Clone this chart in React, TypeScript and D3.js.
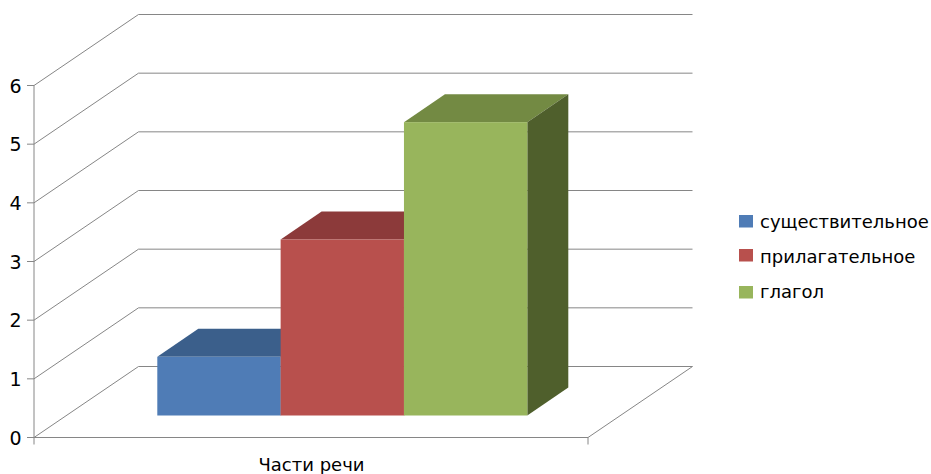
import React from "react";
import * as d3 from "d3";

const categories = ["Части речи"];
const seriesNames = ["существительное", "прилагательное", "глагол"];
const seriesValues = [1, 3, 5];
const frontColors = ["#4f7cb6", "#b8504d", "#98b55c"];
const topColors = ["#3b5f8b", "#8c3a3a", "#738a43"];
const sideColors = ["#2f4b6e", "#6f2e2d", "#4f5f2c"];
const yTicks = [0, 1, 2, 3, 4, 5, 6];
const legendSwatchY = [215, 249, 286];
const legendTextY = [228, 263, 298];

const W = 931, H = 474;
const axisColor = "#868686";
const font = "'DejaVu Sans', sans-serif";

const y = d3.scaleLinear().domain([0, 6]).range([437.5, 85.5]);
const x = d3.scaleBand<string>().domain(seriesNames).range([157.3, 527.3]).padding(0);
const left = 34, right = 588;
const wallDx = 104.5, wallDy = -71;
const barLift = 22, barDx = 41, barDy = -28;

const poly = (pts: [number, number][]) => pts.map(p => p.join(",")).join(" ");

export default function App() {
  const line = d3.line();
  return (
    <svg width={W} height={H} viewBox={`0 0 ${W} ${H}`} style={{ position: "absolute", left: 0, top: 0, background: "#fff" }}>
      {yTicks.map(t => (
        <g key={t}>
          <path
            d={line([[left, y(t)], [left + wallDx, y(t) + wallDy], [right + wallDx, y(t) + wallDy]]) as string}
            fill="none" stroke={axisColor} strokeWidth={1}
          />
          <line x1={left - 7} x2={left} y1={y(t)} y2={y(t)} stroke={axisColor} />
          <text x={21.5} y={y(t) + 7} fontFamily={font} fontSize={19} textAnchor="end" fill="#000">{t}</text>
        </g>
      ))}
      <path d={line([[right, y(0)], [right + wallDx, y(0) + wallDy]]) as string} stroke={axisColor} fill="none" />
      <line x1={left} x2={left} y1={y(6)} y2={y(0) + 7} stroke={axisColor} />
      <line x1={left} x2={right} y1={y(0)} y2={y(0)} stroke={axisColor} strokeWidth={1.2} />
      <line x1={right} x2={right} y1={y(0)} y2={y(0) + 7} stroke={axisColor} />

      {seriesNames.map((s, i) => {
        const x0 = x(s) as number;
        const x1 = x0 + x.bandwidth();
        const yb = y(0) - barLift;
        const yt = y(seriesValues[i]) - barLift;
        return (
          <g key={s}>
            <polygon points={poly([[x0, yt], [x0 + barDx, yt + barDy], [x1 + barDx, yt + barDy], [x1, yt]])} fill={topColors[i]} />
            <polygon points={poly([[x1, yt], [x1 + barDx, yt + barDy], [x1 + barDx, yb + barDy], [x1, yb]])} fill={sideColors[i]} />
            <rect x={x0} y={yt} width={x.bandwidth()} height={yb - yt} fill={frontColors[i]} />
          </g>
        );
      })}

      <text x={311.5} y={471} fontFamily={font} fontSize={18} textAnchor="middle" fill="#000">{categories[0]}</text>

      {seriesNames.map((s, i) => (
        <g key={s}>
          <rect x={739} y={legendSwatchY[i]} width={14} height={12.5} fill={frontColors[i]} />
          <text x={760} y={legendTextY[i]} fontFamily={font} fontSize={18} fill="#000">{s}</text>
        </g>
      ))}
    </svg>
  );
}
